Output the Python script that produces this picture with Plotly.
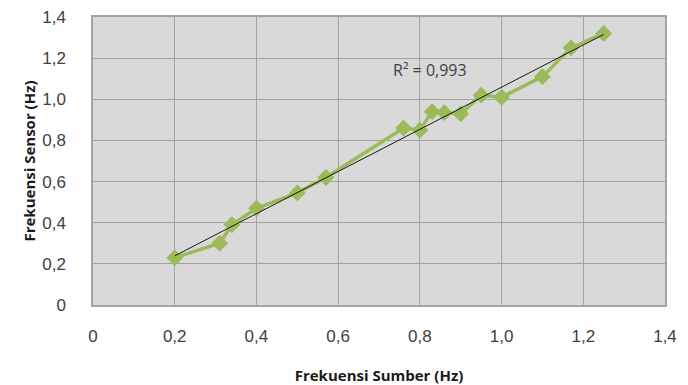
import numpy as np
import plotly.graph_objects as go

# Frequency of the source vs. frequency read by the sensor (Hz)
frekuensi_sumber = [0.20, 0.31, 0.34, 0.40, 0.50, 0.57, 0.76, 0.80, 0.83, 0.86,
                    0.90, 0.95, 1.00, 1.10, 1.17, 1.25]
frekuensi_sensor = [0.23, 0.30, 0.39, 0.47, 0.545, 0.62, 0.86, 0.85, 0.94, 0.935,
                    0.93, 1.02, 1.01, 1.11, 1.25, 1.32]
r2_label = "R² = 0,993"

tick_vals = [0, 0.2, 0.4, 0.6, 0.8, 1.0, 1.2, 1.4]
tick_text = ["0", "0,2", "0,4", "0,6", "0,8", "1,0", "1,2", "1,4"]

green = "#9bbb59"

# Linear trend line
slope, intercept = np.polyfit(frekuensi_sumber, frekuensi_sensor, 1)
tx = np.array([min(frekuensi_sumber), max(frekuensi_sumber)])
ty = slope * tx + intercept

fig = go.Figure()
fig.add_trace(go.Scatter(
    x=frekuensi_sumber, y=frekuensi_sensor, mode="lines+markers",
    line=dict(color=green, width=3.5),
    marker=dict(symbol="diamond", size=13, color=green),
    showlegend=False, hoverinfo="skip"))
fig.add_trace(go.Scatter(
    x=tx, y=ty, mode="lines", line=dict(color="#1a1a1a", width=1),
    showlegend=False, hoverinfo="skip"))

fig.add_annotation(x=0.826, y=1.14, text=r2_label, showarrow=False,
                   font=dict(family="Open Sans", size=16, color="#404040"))

axis_common = dict(
    range=[0, 1.4], tickvals=tick_vals, ticktext=tick_text,
    showgrid=True, gridcolor="#a3a3a3", gridwidth=1.2,
    showline=True, linecolor="#a3a3a3", linewidth=1.5, mirror=True,
    zeroline=False, ticks="", automargin=False,
    tickfont=dict(family="Liberation Sans", size=17, color="#404040"),
)

fig.update_xaxes(**axis_common, ticklabelstandoff=15,
                 title=dict(text="<b>Frekuensi Sumber (Hz)</b>", standoff=25,
                            font=dict(family="Open Sans", size=15, color="#1a1a1a")))
fig.update_yaxes(**axis_common, ticklabelstandoff=22,
                 title=dict(text="<b>Frekuensi Sensor (Hz)</b>", standoff=3,
                            font=dict(family="Open Sans", size=15, color="#1a1a1a")))

fig.update_layout(
    width=688, height=385,
    margin=dict(l=93, r=23, t=17, b=80),
    plot_bgcolor="#d9d9d9", paper_bgcolor="white",
)

fig.write_html("out.html")
